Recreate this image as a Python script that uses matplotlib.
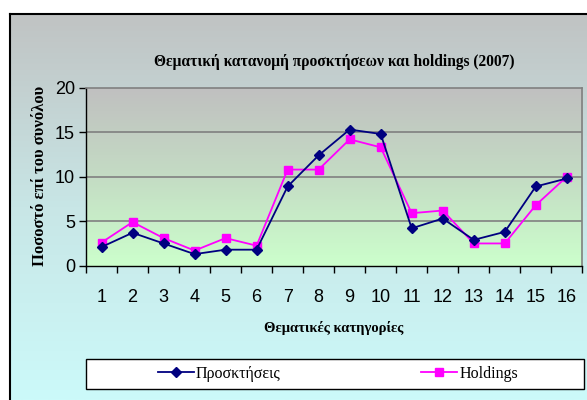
import numpy as np
import matplotlib
matplotlib.use("Agg")
import matplotlib.pyplot as plt
from matplotlib.colors import LinearSegmentedColormap
from matplotlib.patches import Rectangle
from matplotlib.lines import Line2D

# data
categories = list(range(1, 17))
acquisitions = [2.1, 3.7, 2.5, 1.3, 1.8, 1.8, 8.9, 12.4,
                15.3, 14.8, 4.2, 5.3, 2.9, 3.8, 8.9, 9.8]
holdings = [2.6, 4.9, 3.1, 1.7, 3.1, 2.25, 10.8, 10.8,
            14.2, 13.3, 5.9, 6.2, 2.5, 2.5, 6.8, 10.0]
y_ticks = [0, 5, 10, 15, 20]

title = "Θεματική κατανομή προσκτήσεων και holdings (2007)"
x_label = "Θεματικές κατηγορίες"
y_label = "Ποσοστό επί του συνόλου"
names = ["Προσκτήσεις", "Holdings"]

W, H = 587, 400
fig = plt.figure(figsize=(W / 100, H / 100), dpi=100, facecolor="white")

def fx(px):
    return px / W

def fy(py):
    return 1 - py / H

# outer chart area: gray at the top fading to light cyan
bg = fig.add_axes([fx(9.5), 0, 1 - fx(9.5), fy(14)])
bg.set_axis_off()
outer_cmap = LinearSegmentedColormap.from_list(
    "outer", ["#c0c3c3", "#c8e6e6", "#ccfafa"])
bg.imshow(np.linspace(0, 1, 256).reshape(-1, 1), cmap=outer_cmap,
          aspect="auto", extent=[0, 1, 0, 1], origin="upper")
fig.add_artist(Line2D([fx(9.5), fx(9.5)], [0, fy(14)], color="black", lw=1.5))
fig.add_artist(Line2D([fx(9.5), 1], [fy(14), fy(14)], color="black", lw=1.5))

# plot area
left, right, top, bottom = 86, 582.3, 87.7, 265.7
ax = fig.add_axes([fx(left), fy(bottom), fx(right - left), (bottom - top) / H])
inner_cmap = LinearSegmentedColormap.from_list(
    "inner", ["#c0c0c0", "#c4dcc4", "#ccffcc"])
ax.imshow(np.linspace(0, 1, 256).reshape(-1, 1), cmap=inner_cmap,
          aspect="auto", extent=[0, 1, 0, 1], origin="upper",
          transform=ax.transAxes, zorder=0)

for v in y_ticks[1:-1]:
    ax.axhline(v, color="#808080", lw=1.2, zorder=1)

line_a, = ax.plot(categories, acquisitions, color="#000080", lw=1.3,
                  marker="D", markersize=5, zorder=3, label=names[0])
line_h, = ax.plot(categories, holdings, color="#ff00ff", lw=1.3,
                  marker="s", markersize=5.5, zorder=2, label=names[1])

ax.set_xlim(0.5, 16.5)
ax.set_ylim(0, 20)
ax.set_yticks(y_ticks)
ax.set_xticks(categories)
ax.set_xticks(np.arange(0.5, 17, 1), minor=True)
ax.tick_params(axis="x", which="major", length=0, pad=17, labelsize=13)
ax.tick_params(axis="x", which="minor", length=5, direction="out", width=1)
ax.tick_params(axis="y", length=5, direction="out", width=1, pad=3,
               labelsize=13)
for lab in ax.get_xticklabels() + ax.get_yticklabels():
    lab.set_fontfamily("Liberation Sans")

for side in ("top", "right"):
    ax.spines[side].set_color("#808080")
    ax.spines[side].set_linewidth(1.2)
for side in ("left", "bottom"):
    ax.spines[side].set_color("black")
    ax.spines[side].set_linewidth(1.0)

serif = "Liberation Serif"
fig.text(fx(334), fy(62), title, ha="center", va="center",
         fontsize=11.2, fontweight="bold", family=serif)
fig.text(fx(334), fy(328), x_label, ha="center", va="center",
         fontsize=10.5, fontweight="bold", family=serif)
fig.text(fx(40), fy(176), y_label, ha="center", va="center", rotation=90,
         fontsize=12, fontweight="bold", family=serif)

# legend box
fig.add_artist(Rectangle((fx(86), fy(389)), fx(498), 30 / H,
                         facecolor="white", edgecolor="black", lw=1.0,
                         transform=fig.transFigure))
leg = fig.legend(handles=[line_a, line_h], loc="center",
                 bbox_to_anchor=(fx(338), fy(374)), ncol=2, frameon=False,
                 prop={"family": serif, "size": 11.5},
                 handlelength=2.25, handletextpad=0.15, columnspacing=8.8)

fig.savefig("out.png", dpi=100)
